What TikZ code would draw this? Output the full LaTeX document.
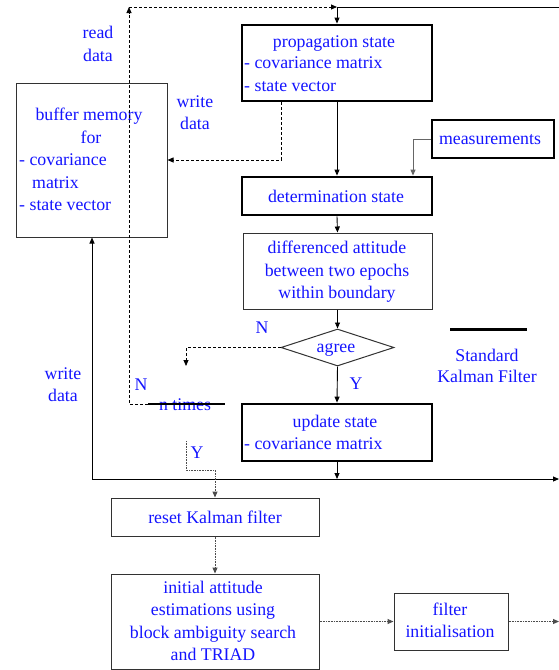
\documentclass[tikz,border=0pt]{standalone}
\usepackage{fontspec}
\setmainfont{Liberation Serif}
\usetikzlibrary{arrows.meta,shapes.geometric}
\definecolor{txtblue}{RGB}{20,20,255}
\definecolor{boxgray}{RGB}{50,50,50}
\tikzset{
  tip/.style={-{Triangle[length=6pt,width=5pt]}},
  thinbox/.style={draw=boxgray,line width=1pt,rectangle,inner sep=0pt},
  thickbox/.style={draw=black,line width=2.8pt,rectangle,inner sep=0pt},
  txt/.style={text=txtblue,inner sep=0pt,anchor=mid,yshift=-3pt},
  txtl/.style={text=txtblue,inner sep=0pt,anchor=mid west,yshift=-3pt},
  dsh/.style={draw=black,line width=0.8pt,dash pattern=on 3pt off 2pt},
  dotl/.style={draw=black!70,line width=1pt,dash pattern=on 1pt off 0.6pt},
  conn/.style={draw=black,line width=0.9pt},
}
\begin{document}
\begin{tikzpicture}[x=1pt,y=-1pt,font=\fontsize{17.8}{22}\selectfont]
\useasboundingbox (0,0) rectangle (559,670);

% boxes
\node[thickbox,minimum width=190,minimum height=76] (prop) at (337,63) {};
\node[thinbox,minimum width=151,minimum height=154] (buf) at (91.5,160) {};
\node[thickbox,minimum width=122,minimum height=38] (meas) at (493,139) {};
\node[thickbox,minimum width=190,minimum height=38] (det) at (337,196) {};
\node[thinbox,minimum width=189,minimum height=76] (diff) at (337.5,271) {};
\node[draw=boxgray,line width=1pt,diamond,inner sep=0pt,minimum width=113,minimum height=37] (agree) at (337.5,347.5) {};
\node[thickbox,minimum width=190,minimum height=57] (upd) at (337,432.5) {};
\node[thinbox,minimum width=208,minimum height=38] (reset) at (215,517) {};
\node[thinbox,minimum width=208,minimum height=95] (init) at (215,621.5) {};
\node[thinbox,minimum width=114,minimum height=57] (filt) at (451,621.5) {};

% coordinates
\coordinate (tl) at (129,7);
\coordinate (tj) at (337,7);
\coordinate (tr) at (559,7);
\coordinate (wdx) at (281,160);
\coordinate (mx) at (413,177);
\coordinate (nd) at (186,366);
\coordinate (bl) at (92,479);
\coordinate (bm) at (337,479);
\coordinate (br) at (559,479);
\coordinate (ntl) at (129,404);
\coordinate (nts) at (148,404);
\coordinate (nte) at (225,404);
\coordinate (ys) at (186,441);
\coordinate (yb) at (186,470);
\coordinate (fr) at (559,621.5);
\coordinate (lg1) at (450,329);
\coordinate (lg2) at (527,329);

% texts
\node[txt] (t1) at (334,42) {propagation state};
\node[txtl] (t2) at (244,63) {- covariance matrix};
\node[txtl] (t3) at (244,86) {- state vector};
\node[txt] (t4) at (89,115) {buffer memory};
\node[txt] (t5) at (91,138) {for};
\node[txtl] (t6) at (19,160) {- covariance};
\node[txtl] (t7) at (32,183) {matrix};
\node[txtl] (t8) at (19,205) {- state vector};
\node[txt] (t9) at (98,33) {read};
\node[txt] (t10) at (98,56) {data};
\node[txt] (t11) at (195,102) {write};
\node[txt] (t12) at (195,124) {data};
\node[txt] (t13) at (490,139) {measurements};
\node[txt] (t14) at (336,197) {determination state};
\node[txt] (t15) at (337,248) {differenced attitude};
\node[txt] (t16) at (337,271) {between two epochs};
\node[txt] (t17) at (337,293) {within boundary};
\node[txt] (t18) at (336,347) {agree};
\node[txt] (t19) at (335,422) {update state};
\node[txtl] (t20) at (244,444) {- covariance matrix};
\node[txt] (t21) at (487,356) {Standard};
\node[txt] (t22) at (487,377) {Kalman Filter};
\node[txt] (t23) at (63,374) {write};
\node[txt] (t24) at (63,396) {data};
\node[txt] (t25) at (262,328) {N};
\node[txt] (t26) at (356,384) {Y};
\node[txt] (t27) at (141,385) {N};
\node[txt] (t28) at (185,405) {n times};
\node[txt] (t29) at (197,453) {Y};
\node[txt] (t30) at (215,518) {reset Kalman filter};
\node[txt] (t31) at (213,588) {initial attitude};
\node[txt] (t32) at (213,610) {estimations using};
\node[txt] (t33) at (213,633) {block ambiguity search};
\node[txt] (t34) at (213,655) {and TRIAD};
\node[txt] (t35) at (450,610) {filter};
\node[txt] (t36) at (450,632) {initialisation};

% connectors
\draw[conn] (tj) -- (tr);
\draw[conn,tip] (tj) -- (prop.north);
\draw[dsh,tip] (nts) -- (ntl) -- (tl);
\draw[dsh,tip] (tl) -- (tj);
\draw[dsh,tip] (prop.south -| wdx) |- (buf.east);
\draw[conn,tip] (prop.south) -- (det.north);
\draw[draw=black!60,line width=1pt,tip] (meas.west) -| (det.north -| mx);
\draw[conn,tip] (det.south) -- (diff.north);
\draw[conn,tip] (diff.south) -- (agree.north);
\draw[dsh,tip] (agree.west) -| (nd);
\draw[conn,tip] (agree.south) -- (upd.north);
\draw[conn,tip] (upd.south) -- (bm);
\draw[conn,tip] (bl) -- (br);
\draw[conn,tip] (bl) -- (buf.south -| bl);
\draw[conn,line width=1.2pt] (nts) -- (nte);
\draw[dotl,tip] (ys) -- (yb) -| (reset.north);
\draw[dotl,tip] (reset.south) -- (init.north);
\draw[dotl,tip] (init.east) -- (filt.west);
\draw[dotl,tip] (filt.east) -- (fr);
\draw[line width=3pt] (lg1) -- (lg2);
\end{tikzpicture}
\end{document}
